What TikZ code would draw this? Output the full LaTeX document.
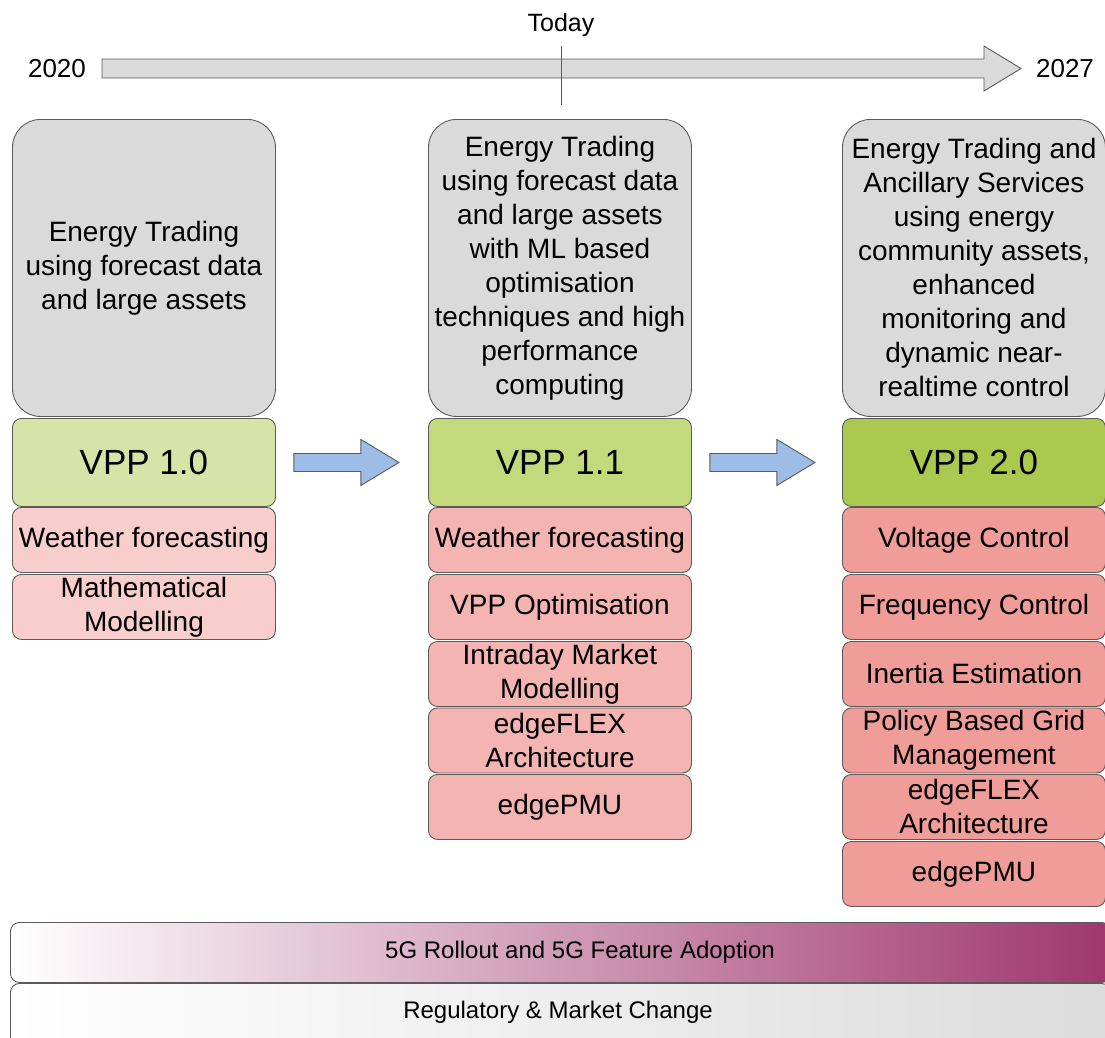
\documentclass[tikz,border=0pt]{standalone}
\usepackage{fontspec}
\setmainfont{Liberation Sans}
\usetikzlibrary{calc}
\definecolor{boxgray}{HTML}{DADADA}
\definecolor{edge}{HTML}{5A5A5A}
\definecolor{vppa}{HTML}{D6E5A7}
\definecolor{vppb}{HTML}{C3D97C}
\definecolor{vppc}{HTML}{ABC84F}
\definecolor{pinka}{HTML}{F8CECC}
\definecolor{pinkb}{HTML}{F4B4B1}
\definecolor{pinkc}{HTML}{F09C98}
\definecolor{arrowblue}{HTML}{9DBCE6}
\definecolor{plum}{HTML}{A0376E}
\definecolor{reggray}{HTML}{DCDCDC}
\begin{document}
\begin{tikzpicture}[x=1pt,y=-1pt,
  gbox/.style={draw=edge, fill=boxgray, line width=0.9pt, rounded corners=28pt,
    minimum width=263pt, minimum height=297pt, anchor=north west, inner sep=0pt,
    align=center, font=\fontsize{28}{34}\selectfont},
  vbox/.style={draw=edge, line width=0.9pt, rounded corners=9pt,
    minimum width=263pt, minimum height=88pt, anchor=north west, inner sep=0pt,
    font=\fontsize{35}{40}\selectfont},
  pbox/.style={draw=edge, line width=0.9pt, rounded corners=9pt,
    minimum width=263pt, minimum height=65pt, anchor=north west, inner sep=0pt,
    align=center, font=\fontsize{28}{34}\selectfont},
  barrow/.style={draw=edge, fill=arrowblue, line width=0.9pt, line join=miter},
  tline/.style={draw=edge, fill=boxgray, line width=0.9pt},
  lbl/.style={font=\fontsize{26}{30}\selectfont, inner sep=0pt},
  bar/.style={draw=edge, line width=0.9pt, rounded corners=9pt,
    minimum width=1100pt, anchor=north west, inner sep=0pt,
    font=\fontsize{24}{28}\selectfont}
]
\useasboundingbox (0,0) rectangle (1105,1037);
\clip (0,0) rectangle (1105,1037);
\fill[white] (0,0) rectangle (1105,1037);

% timeline
\node[lbl] (y2020) at (57,69) {2020};
\node[lbl] (y2027) at (1065,69) {2027};
\node[lbl, font=\fontsize{25}{30}\selectfont] (today) at (561,25) {Today};
\draw[tline] (102,59) -- (984,59) -- (984,46) -- (1021,68.5) -- (984,91) -- (984,78) -- (102,78) -- cycle;
\coordinate (ttop) at (561,46);
\coordinate (tbot) at (561,105);
\draw[edge, line width=1pt] (ttop) -- (tbot);

% description boxes
\node[gbox] (g1) at (12,119) {Energy Trading\\using forecast data\\and large assets};
\node[gbox] (g2) at (428,119) {Energy Trading\\using forecast data\\and large assets\\with ML based\\optimisation\\techniques and high\\performance\\computing};
\node[gbox] (g3) at (842,119) {Energy Trading and\\Ancillary Services\\using energy\\community assets,\\enhanced\\monitoring and\\dynamic near-\\realtime control};

% VPP boxes
\node[vbox, fill=vppa] (v1) at (12,418) {VPP 1.0};
\node[vbox, fill=vppb] (v2) at (428,418) {VPP 1.1};
\node[vbox, fill=vppc] (v3) at (842,418) {VPP 2.0};

% column 1
\node[pbox, fill=pinka] (a1) at (12,507) {Weather forecasting};
\node[pbox, fill=pinka] (a2) at (12,574) {Mathematical\\Modelling};

% column 2
\node[pbox, fill=pinkb] (b1) at (428,507) {Weather forecasting};
\node[pbox, fill=pinkb] (b2) at (428,574) {VPP Optimisation};
\node[pbox, fill=pinkb] (b3) at (428,641) {Intraday Market\\Modelling};
\node[pbox, fill=pinkb] (b4) at (428,707.5) {edgeFLEX\\Architecture};
\node[pbox, fill=pinkb] (b5) at (428,774) {edgePMU};

% column 3
\node[pbox, fill=pinkc] (c1) at (842,507) {Voltage Control};
\node[pbox, fill=pinkc] (c2) at (842,574) {Frequency Control};
\node[pbox, fill=pinkc] (c3) at (842,641) {Inertia Estimation};
\node[pbox, fill=pinkc] (c4) at (842,707.5) {Policy Based Grid\\Management};
\node[pbox, fill=pinkc] (c5) at (842,774) {edgeFLEX\\Architecture};
\node[pbox, fill=pinkc] (c6) at (842,841) {edgePMU};

% block arrows between VPP stages
\draw[barrow] ($(v1.east)+(18,-9)$) -- ++(67,0) -- ++(0,-14) -- ++(38,23) -- ++(-38,23) -- ++(0,-14) -- ++(-67,0) -- cycle;
\draw[barrow] ($(v2.east)+(18,-9)$) -- ++(67,0) -- ++(0,-14) -- ++(38,23) -- ++(-38,23) -- ++(0,-14) -- ++(-67,0) -- cycle;

% bottom bars
\node[bar, left color=white, right color=plum, minimum height=60pt] (fiveg) at (10,922) {};
\node[font=\fontsize{24}{28}\selectfont, inner sep=0pt] (fivegt) at (580,952) {5G Rollout and 5G Feature Adoption};
\node[bar, left color=white, right color=reggray, minimum height=75pt] (reg) at (10,983) {};
\node[font=\fontsize{24}{28}\selectfont, inner sep=0pt] (regt) at (558,1012) {Regulatory \& Market Change};
\end{tikzpicture}
\end{document}
